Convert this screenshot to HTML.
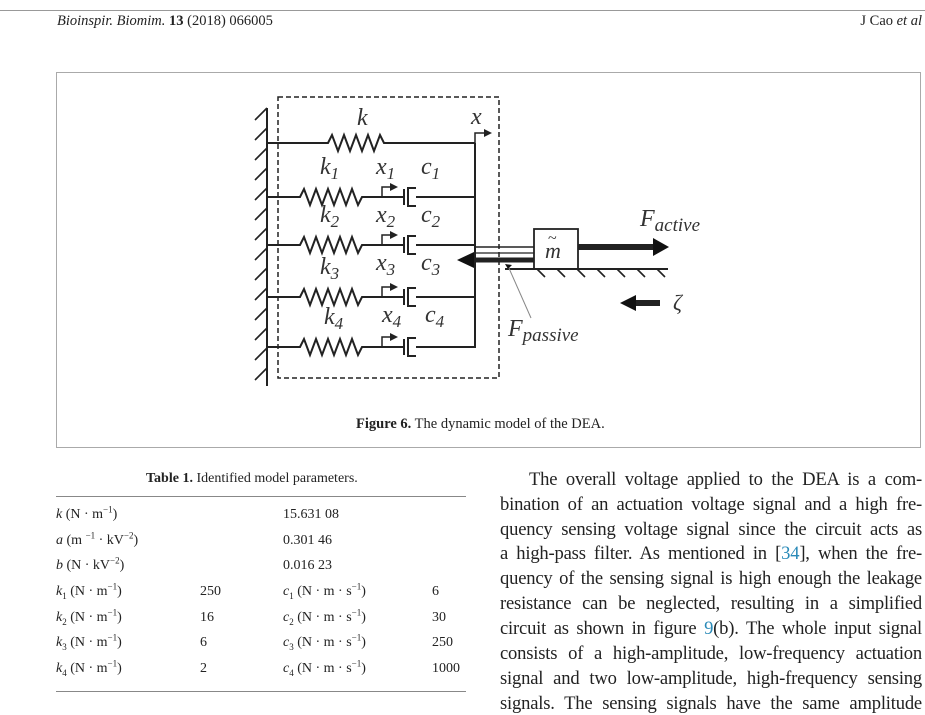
<!DOCTYPE html>
<html><head><meta charset="utf-8"><style>
body{margin:0;width:925px;height:709px;overflow:hidden;background:#fff;font-family:"Liberation Serif",serif;color:#222;position:relative}
.abs{position:absolute;white-space:nowrap}
.t{font-size:14px}
.ln{position:absolute;left:500px;width:422px;font-size:18.6px;line-height:22px;text-align:justify;text-align-last:justify;white-space:nowrap;color:#222;letter-spacing:-0.2px}
.row{position:absolute;font-size:14px;line-height:16px;white-space:nowrap}
sup,sub{font-size:9px;line-height:0}
a{color:#2a8ab8;text-decoration:none}
</style></head><body>
<div class="abs" style="left:0;top:10px;width:925px;height:1px;background:#999"></div>
<div class="abs t" style="left:57px;top:13px;font-size:14.5px"><i>Bioinspir. Biomim.</i> <b>13</b> (2018) 066005</div>
<div class="abs t" style="right:3px;top:13px;font-size:14.5px">J Cao <i>et al</i></div>
<div class="abs" style="left:56px;top:72px;width:863px;height:374px;border:1px solid #aaa"></div>
<svg class="abs" style="left:0;top:0" width="925" height="460" font-family="Liberation Serif, serif">
<g stroke="#222" fill="none" stroke-width="2">
<line x1="267" y1="108" x2="267" y2="386"/>
<path d="M255 120l12-12M255 140l12-12M255 160l12-12M255 180l12-12M255 200l12-12M255 220l12-12M255 240l12-12M255 260l12-12M255 280l12-12M255 300l12-12M255 320l12-12M255 340l12-12M255 360l12-12M255 380l12-12" stroke-width="1.6"/>
<rect x="278" y="97" width="221" height="281" stroke-dasharray="5,3" stroke-width="1.5"/>
<line x1="475" y1="143" x2="475" y2="348"/>
<path d="M267 143H328l4 -8 6 16 6 -16 6 16 6 -16 6 16 6 -16 6 16 6 -16 4 8H475"/>
<path d="M475 143V133H486" stroke-width="1.5"/>
</g>
<path d="M484 129l8 4-8 4z" fill="#222"/>
<g transform="translate(0,197)"><path d="M267 0H300l4 -8 6 16 6 -16 6 16 6 -16 6 16 6 -16 6 16 6 -16 6 16 4-8H404M404 -8V8M416 -9H408V9H416M416 0H475" stroke="#222" fill="none" stroke-width="2"/><path d="M382 0V-10H392" stroke="#222" fill="none" stroke-width="1.5"/><path d="M390 -14l8 4-8 4z" fill="#222"/></g>
<g transform="translate(0,245)"><path d="M267 0H300l4 -8 6 16 6 -16 6 16 6 -16 6 16 6 -16 6 16 6 -16 6 16 4-8H404M404 -8V8M416 -9H408V9H416M416 0H475" stroke="#222" fill="none" stroke-width="2"/><path d="M382 0V-10H392" stroke="#222" fill="none" stroke-width="1.5"/><path d="M390 -14l8 4-8 4z" fill="#222"/></g>
<g transform="translate(0,297)"><path d="M267 0H300l4 -8 6 16 6 -16 6 16 6 -16 6 16 6 -16 6 16 6 -16 6 16 4-8H404M404 -8V8M416 -9H408V9H416M416 0H475" stroke="#222" fill="none" stroke-width="2"/><path d="M382 0V-10H392" stroke="#222" fill="none" stroke-width="1.5"/><path d="M390 -14l8 4-8 4z" fill="#222"/></g>
<g transform="translate(0,347)"><path d="M267 0H300l4 -8 6 16 6 -16 6 16 6 -16 6 16 6 -16 6 16 6 -16 6 16 4-8H404M404 -8V8M416 -9H408V9H416M416 0H475" stroke="#222" fill="none" stroke-width="2"/><path d="M382 0V-10H392" stroke="#222" fill="none" stroke-width="1.5"/><path d="M390 -14l8 4-8 4z" fill="#222"/></g>
<g fill="#333" font-style="italic" font-size="24">
<text x="357" y="125">k</text><text x="471" y="124">x</text>
<text x="320" y="174">k<tspan font-size="17" dy="5">1</tspan></text>
<text x="376" y="174">x<tspan font-size="17" dy="5">1</tspan></text>
<text x="421" y="174">c<tspan font-size="17" dy="5">1</tspan></text>
<text x="320" y="222">k<tspan font-size="17" dy="5">2</tspan></text>
<text x="376" y="222">x<tspan font-size="17" dy="5">2</tspan></text>
<text x="421" y="222">c<tspan font-size="17" dy="5">2</tspan></text>
<text x="320" y="274">k<tspan font-size="17" dy="5">3</tspan></text>
<text x="376" y="270">x<tspan font-size="17" dy="5">3</tspan></text>
<text x="421" y="270">c<tspan font-size="17" dy="5">3</tspan></text>
<text x="324" y="324">k<tspan font-size="17" dy="5">4</tspan></text>
<text x="382" y="322">x<tspan font-size="17" dy="5">4</tspan></text>
<text x="425" y="322">c<tspan font-size="17" dy="5">4</tspan></text>
<text x="640" y="226">F<tspan font-size="19" dy="5">active</tspan></text>
<text x="508" y="336">F<tspan font-size="19" dy="5">passive</tspan></text>
<text x="673" y="310" font-size="22">ζ</text>
</g>
<g stroke="#222" fill="none">
<line x1="475" y1="247" x2="534" y2="247" stroke-width="1.5"/>
<line x1="475" y1="253" x2="534" y2="253" stroke-width="1.2"/>
<line x1="470" y1="260" x2="534" y2="260" stroke-width="5"/>
<rect x="534" y="229" width="44" height="40" stroke-width="1.8" fill="#fff"/>
<line x1="505" y1="269" x2="668" y2="269" stroke-width="2"/>
<path d="M537 269l8 8M557 269l8 8M577 269l8 8M597 269l8 8M617 269l8 8M637 269l8 8M657 269l8 8" stroke-width="1.6"/>
<line x1="578" y1="247" x2="655" y2="247" stroke-width="6"/>
<line x1="634" y1="303" x2="660" y2="303" stroke-width="6"/>
<line x1="508" y1="266" x2="531" y2="318" stroke="#888" stroke-width="1"/>
</g>
<text x="545" y="258" font-size="22" font-style="italic" fill="#333">m</text>
<text x="548" y="243" font-size="16" fill="#333">~</text>
<g fill="#111">
<path d="M457 260l17-8v16z"/>
<path d="M669 247l-16-9v18z"/>
<path d="M620 303l16-8v16z"/>
<path d="M505 264l7 1-4 4z"/>
</g>
<text x="356" y="428" font-size="14.5" fill="#222"><tspan font-weight="bold">Figure 6.</tspan>  The dynamic model of the DEA.</text>
</svg>
<div class="abs t" style="left:146px;top:471px"><b>Table 1.</b>  Identified model parameters.</div>
<div class="abs" style="left:56px;top:496px;width:410px;height:1px;background:#888"></div>
<div class="abs" style="left:56px;top:691px;width:410px;height:1px;background:#888"></div>

<div class="row" style="left:56px;top:507px"><i>k</i> (N · m<sup>−1</sup>)</div>
<div class="row" style="left:56px;top:533px"><i>a</i> (m <sup>−1</sup> · kV<sup>−2</sup>)</div>
<div class="row" style="left:56px;top:558px"><i>b</i> (N · kV<sup>−2</sup>)</div>
<div class="row" style="left:56px;top:584px"><i>k</i><sub>1</sub> (N · m<sup>−1</sup>)</div>
<div class="row" style="left:56px;top:610px"><i>k</i><sub>2</sub> (N · m<sup>−1</sup>)</div>
<div class="row" style="left:56px;top:635px"><i>k</i><sub>3</sub> (N · m<sup>−1</sup>)</div>
<div class="row" style="left:56px;top:661px"><i>k</i><sub>4</sub> (N · m<sup>−1</sup>)</div>

<div class="row" style="left:200px;top:584px">250</div>
<div class="row" style="left:200px;top:610px">16</div>
<div class="row" style="left:200px;top:635px">6</div>
<div class="row" style="left:200px;top:661px">2</div>

<div class="row" style="left:283px;top:507px">15.631 08</div>
<div class="row" style="left:283px;top:533px">0.301 46</div>
<div class="row" style="left:283px;top:558px">0.016 23</div>
<div class="row" style="left:283px;top:584px"><i>c</i><sub>1</sub> (N · m · s<sup>−1</sup>)</div>
<div class="row" style="left:283px;top:610px"><i>c</i><sub>2</sub> (N · m · s<sup>−1</sup>)</div>
<div class="row" style="left:283px;top:635px"><i>c</i><sub>3</sub> (N · m · s<sup>−1</sup>)</div>
<div class="row" style="left:283px;top:661px"><i>c</i><sub>4</sub> (N · m · s<sup>−1</sup>)</div>

<div class="row" style="left:432px;top:584px">6</div>
<div class="row" style="left:432px;top:610px">30</div>
<div class="row" style="left:432px;top:635px">250</div>
<div class="row" style="left:432px;top:661px">1000</div>

<div class="ln" style="top:469px;left:529px;width:393px">The overall voltage applied to the DEA is a com-</div>
<div class="ln" style="top:494px">bination of an actuation voltage signal and a high fre-</div>
<div class="ln" style="top:519px">quency sensing voltage signal since the circuit acts as</div>
<div class="ln" style="top:543px">a high-pass filter. As mentioned in [<a>34</a>], when the fre-</div>
<div class="ln" style="top:568px">quency of the sensing signal is high enough the leakage</div>
<div class="ln" style="top:593px">resistance can be neglected, resulting in a simplified</div>
<div class="ln" style="top:618px">circuit as shown in figure <a>9</a>(b). The whole input signal</div>
<div class="ln" style="top:643px">consists of a high-amplitude, low-frequency actuation</div>
<div class="ln" style="top:668px">signal and two low-amplitude, high-frequency sensing</div>
<div class="ln" style="top:693px">signals. The sensing signals have the same amplitude</div>
</body></html>
